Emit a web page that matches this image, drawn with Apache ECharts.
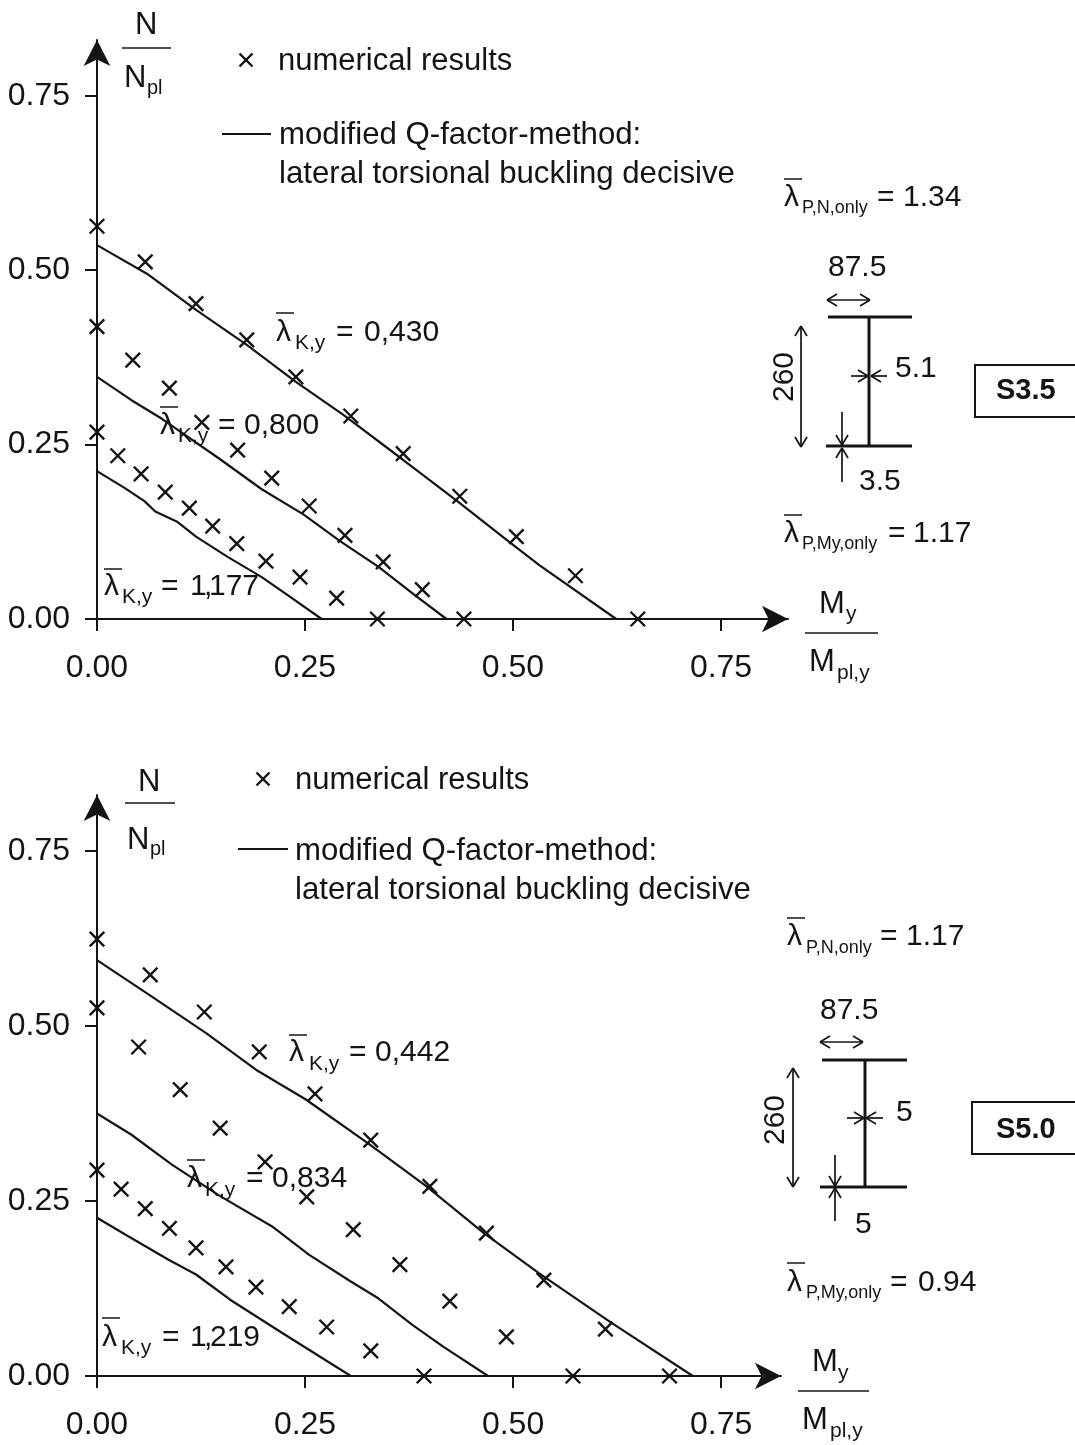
<!DOCTYPE html>
<html><head><meta charset="utf-8">
<style>html,body{margin:0;padding:0;background:#fff}#c{width:1075px;height:1445px}</style>
<script src="https://cdn.jsdelivr.net/npm/echarts@6/dist/echarts.min.js"></script>
</head><body><div id="c"></div>
<script>
var tickValues = [0, 0.25, 0.5, 0.75];

// S3.5 panel
var s35CrossA = [[0,.563],[.058,.512],[.119,.452],[.180,.400],[.239,.347],[.305,.291],[.368,.237],[.436,.176],[.504,.118],[.575,.062],[.650,0]];
var s35CrossB = [[0,.419],[.043,.371],[.087,.331],[.126,.282],[.169,.242],[.210,.202],[.255,.162],[.298,.120],[.344,.082],[.391,.042],[.441,0]];
var s35CrossC = [[0,.268],[.025,.234],[.053,.208],[.082,.182],[.111,.159],[.139,.133],[.168,.108],[.203,.083],[.244,.060],[.288,.030],[.337,0]];
var s35LineA = [[0,.536],[.060,.495],[.119,.443],[.180,.393],[.239,.340],[.297,.292],[.367,.229],[.433,.169],[.495,.111],[.532,.077],[.624,0]];
var s35LineB = [[0,.347],[.041,.314],[.078,.287],[.148,.229],[.198,.186],[.248,.150],[.293,.111],[.338,.075],[.380,.036],[.420,0]];
var s35LineC = [[0,.212],[.033,.188],[.057,.169],[.070,.154],[.097,.139],[.119,.118],[.157,.089],[.198,.060],[.227,.036],[.270,0]];

// S5.0 panel
var s50CrossA = [[0,.624],[.064,.573],[.129,.520],[.195,.463],[.262,.403],[.329,.337],[.400,.271],[.468,.204],[.537,.137],[.611,.067],[.688,0]];
var s50CrossB = [[0,.526],[.050,.470],[.100,.409],[.148,.354],[.202,.306],[.252,.256],[.308,.209],[.364,.159],[.424,.107],[.492,.056],[.572,0]];
var s50CrossC = [[0,.294],[.029,.267],[.058,.239],[.087,.211],[.119,.183],[.155,.156],[.191,.127],[.231,.099],[.276,.070],[.329,.036],[.393,0]];
var s50LineA = [[0,.594],[.061,.546],[.132,.489],[.193,.436],[.251,.395],[.325,.333],[.396,.271],[.465,.204],[.531,.147],[.617,.077],[.716,0]];
var s50LineB = [[0,.375],[.041,.345],[.090,.302],[.148,.257],[.210,.214],[.255,.173],[.305,.135],[.338,.111],[.379,.073],[.416,.042],[.470,0]];
var s50LineC = [[0,.226],[.037,.200],[.086,.166],[.119,.145],[.160,.109],[.226,.059],[.305,0]];

var INK = '#141414', FONT = '"Liberation Sans", Arial, sans-serif';
var CROSS = 'path://M0,0L10,10M10,0L0,10';
var g = [];
function T(x, y, s, size, o) {
  o = o || {};
  var up = size * 0.74;
  g.push({type:'text', x:o.rot ? x - up : x, y:o.rot ? y : y - up, rotation:o.rot||0, silent:true, z:20, style:{
    text:s, x:0, y:0, fill:INK, align:o.align||'left', verticalAlign:'top',
    font:(o.bold?'bold ':'')+size+'px '+FONT}});
}
function L(x1, y1, x2, y2, w) {
  g.push({type:'line', silent:true, z:20, shape:{x1:x1,y1:y1,x2:x2,y2:y2}, style:{stroke:INK, lineWidth:w||2}});
}
function head(x, y, dx, dy) {
  var n = 10, b = 6, px = -dy, py = dx;
  L(x, y, x - dx*n + px*b, y - dy*n + py*b, 1.7);
  L(x, y, x - dx*n - px*b, y - dy*n - py*b, 1.7);
}
function A(x1, y1, x2, y2, both) {
  var d = Math.sqrt((x2-x1)*(x2-x1)+(y2-y1)*(y2-y1)), dx = (x2-x1)/d, dy = (y2-y1)/d;
  L(x1, y1, x2, y2, 1.7); head(x2, y2, dx, dy);
  if (both) head(x1, y1, -dx, -dy);
}
function lam(x, barY, base, sub, subX, subBase, subSize, eqX, val, valX) {
  L(x, barY, x+18, barY, 1.5);
  T(x, base, 'λ', 30);
  T(subX, subBase, sub, subSize);
  T(eqX, base, '=', 30);
  if (val) T(valX, base, val, 30);
}

// S3.5 annotations
T(135, 33, 'N', 31); L(122, 48, 171, 48, 1.6);
T(124, 86, 'N', 31); T(147, 93, 'pl', 20);
T(278, 69, 'numerical results', 31);
L(222, 134, 271, 134, 1.8);
T(279, 143, 'modified Q-factor-method:', 31.2);
T(279, 182, 'lateral torsional buckling decisive', 31.2);
lam(276, 313, 340, 'K,y', 295, 348, 21, 336, '0,430', 364);
lam(160, 407, 433, 'K,y', 178, 441, 21, 218, '0,800', 244);
lam(104, 569, 594, 'K,y', 122, 602, 21, 161, '', 0);
T(190, 594, '1', 30); T(204, 594, ',', 30); T(209, 594, '177', 30);
lam(784, 179, 205, 'P,N,only', 802, 212, 18, 877, '1.34', 903);
lam(784, 515, 541, 'P,My,only', 802, 548, 18, 888, '1.17', 913);
T(828, 275, '87.5', 30); A(827, 300, 870, 300, true);
L(828, 317, 912, 317, 3); L(869, 317, 869, 446, 3); L(826, 446, 912, 446, 3);
A(801, 326, 801, 447, true);
T(792, 377, '260', 30, {rot:Math.PI/2, align:'center'});
A(851, 376, 868, 376); A(887, 376, 871, 376);
T(895, 376, '5.1', 30);
A(842, 412, 842, 445); A(842, 482, 842, 448);
T(859, 489, '3.5', 30);
g.push({type:'rect', silent:true, z:19, shape:{x:975, y:365, width:110, height:52}, style:{fill:'#fff', stroke:INK, lineWidth:2}});
T(996, 398, 'S3.5', 29, {bold:true});
T(819, 612, 'M', 31); T(846, 619, 'y', 21); L(805, 633, 878, 633, 1.6);
T(809, 670, 'M', 31); T(837, 678, 'pl,y', 21);

// S5.0 annotations
T(138, 790, 'N', 31); L(125, 803, 175, 803, 1.6);
T(127, 848, 'N', 31); T(150, 854, 'pl', 20);
T(295, 788, 'numerical results', 31);
L(238, 849, 288, 849, 1.8);
T(295, 859, 'modified Q-factor-method:', 31.2);
T(295, 898, 'lateral torsional buckling decisive', 31.2);
lam(289, 1035, 1060, 'K,y', 309, 1069, 21, 349, '0,442', 375);
lam(187, 1160, 1186, 'K,y', 205, 1195, 21, 246, '0,834', 272);
lam(102, 1318, 1345, 'K,y', 121, 1353, 21, 162, '', 0);
T(190, 1345, '1', 30); T(204, 1345, ',', 30); T(210, 1345, '219', 30);
lam(787, 918, 944, 'P,N,only', 806, 952, 18, 880, '1.17', 906);
lam(787, 1263, 1290, 'P,My,only', 806, 1297, 18, 890, '0.94', 918);
T(820, 1018, '87.5', 30); A(820, 1042, 863, 1042, true);
L(822, 1060, 907, 1060, 3); L(865, 1060, 865, 1187, 3); L(820, 1187, 907, 1187, 3);
A(793, 1068, 793, 1187, true);
T(783, 1120, '260', 30, {rot:Math.PI/2, align:'center'});
A(847, 1118, 864, 1118); A(883, 1118, 866, 1118);
T(896, 1120, '5', 30);
A(835, 1155, 835, 1186); A(835, 1221, 835, 1188);
T(855, 1232, '5', 30);
g.push({type:'rect', silent:true, z:19, shape:{x:972, y:1102, width:110, height:52}, style:{fill:'#fff', stroke:INK, lineWidth:2}});
T(996, 1137, 'S5.0', 29, {bold:true});
T(812, 1370, 'M', 31); T(838, 1378, 'y', 21); L(798, 1391, 869, 1391, 1.6);
T(802, 1428, 'M', 31); T(830, 1436, 'pl,y', 21);

// legend glyphs
function legendCross(x, y) { L(x-6.5, y-6.5, x+6.5, y+6.5, 2.4); L(x+6.5, y-6.5, x-6.5, y+6.5, 2.4); }
legendCross(246, 60); legendCross(263, 779);

function axis(max, isY, idx) {
  return {
    type:'value', min:0, max:max, gridIndex:idx, interval:0.25,
    splitLine:{show:false},
    axisLine:{show:true, onZero:false, symbol:['none','arrow'], symbolSize:[20,26], symbolOffset:[0,0], lineStyle:{color:INK, width:2}},
    axisTick:{show:true, inside:false, length:12, customValues:tickValues, lineStyle:{color:INK, width:2}},
    axisLabel:{show:true, customValues:tickValues, margin:isY?27:33, color:INK, fontFamily:'Liberation Sans', fontSize:32,
      padding:isY?[8,0,0,0]:0, formatter:function(v){return v.toFixed(2);}}
  };
}
function lineS(data, i) {
  return {type:'line', data:data, xAxisIndex:i, yAxisIndex:i, showSymbol:false, symbol:'none', clip:false, z:5,
    lineStyle:{color:INK, width:2.2}, silent:true};
}
function crossS(data, i) {
  return {type:'scatter', data:data, xAxisIndex:i, yAxisIndex:i, symbol:CROSS, symbolSize:14.5, clip:false, z:6, silent:true,
    itemStyle:{color:'none', borderColor:INK, borderWidth:2.4, opacity:1}};
}

var chart = echarts.init(document.getElementById('c'), null, {renderer:'canvas'});
chart.setOption({
  animation:false, backgroundColor:'#fff',
  grid:[
    {left:97, top:40, width:691, height:579},
    {left:97, top:795, width:684, height:581}
  ],
  xAxis:[axis(0.8305,false,0), axis(0.822,false,1)],
  yAxis:[axis(0.83,true,0), axis(0.83,true,1)],
  series:[
    lineS(s35LineA,0), lineS(s35LineB,0), lineS(s35LineC,0),
    crossS(s35CrossA,0), crossS(s35CrossB,0), crossS(s35CrossC,0),
    lineS(s50LineA,1), lineS(s50LineB,1), lineS(s50LineC,1),
    crossS(s50CrossA,1), crossS(s50CrossB,1), crossS(s50CrossC,1)
  ],
  graphic:{elements:g}
});
</script></body></html>
